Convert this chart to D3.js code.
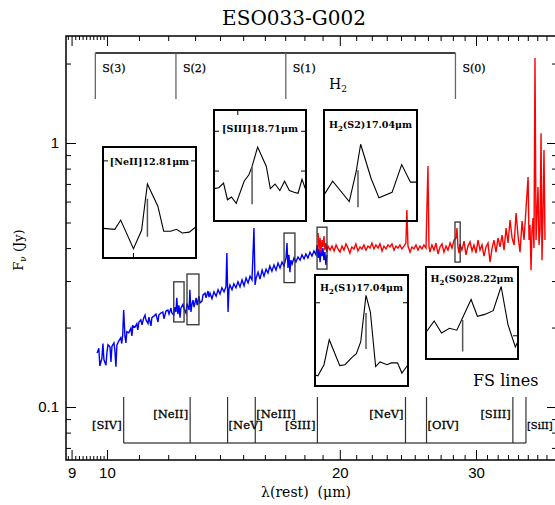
<!DOCTYPE html>
<html><head><meta charset="utf-8">
<script src="https://cdn.jsdelivr.net/npm/d3@7"></script>
<style>body{margin:0;background:#fff}svg{display:block}</style>
</head><body>
<svg id="c" width="555" height="505"></svg>
<script>
// ---------------- data ----------------
const title = "ESO033-G002";
const xMajorTicks = [9, 10, 20, 30];
const xMinorTicks = [11,12,13,14,15,16,17,18,19,21,22,23,24,25,26,27,28,29,31,32,33,34,35,36,37,38];
const xFineTicks = [8.9,9.1,9.2,9.3,9.4,9.5,9.6,9.7,9.8,9.9];
const yMajorTicks = [0.1, 1];
const yMinorTicks = [0.07,0.08,0.09,0.2,0.3,0.4,0.5,0.6,0.7,0.8,0.9,2];
const xDomain = [8.852, 38.18];
const yDomain = [0.063, 2.543];

// IRS short-low (blue) spectrum [lambda um, Fnu Jy]
const blueSpectrum = [
[9.71,0.160],[9.76,0.167],[9.79,0.143],[9.85,0.153],[9.88,0.174],[9.91,0.151],[9.97,0.144],[10.00,0.161],
[10.03,0.172],[10.09,0.169],[10.12,0.148],[10.15,0.170],[10.21,0.175],[10.24,0.163],[10.27,0.142],[10.30,0.172],
[10.36,0.178],[10.42,0.183],[10.45,0.174],[10.48,0.187],[10.51,0.233],[10.55,0.186],[10.58,0.175],[10.61,0.193],
[10.67,0.191],[10.74,0.199],[10.77,0.186],[10.80,0.203],[10.87,0.201],[10.93,0.207],[10.96,0.196],[11.00,0.210],
[11.06,0.214],[11.10,0.205],[11.16,0.218],[11.20,0.223],[11.23,0.214],[11.30,0.207],[11.33,0.219],[11.40,0.203],
[11.43,0.218],[11.50,0.221],[11.57,0.225],[11.64,0.210],[11.67,0.223],[11.74,0.227],[11.81,0.229],[11.85,0.216],
[11.92,0.231],[11.99,0.233],[12.03,0.225],[12.10,0.237],[12.13,0.227],[12.20,0.223],[12.24,0.239],[12.28,0.229],
[12.31,0.259],[12.35,0.225],[12.39,0.243],[12.43,0.218],[12.46,0.237],[12.54,0.245],[12.58,0.235],[12.65,0.227],
[12.69,0.247],[12.77,0.233],[12.80,0.278],[12.84,0.229],[12.88,0.245],[12.92,0.254],[12.96,0.239],[13.04,0.259],
[13.08,0.243],[13.15,0.263],[13.19,0.248],[13.27,0.252],[13.31,0.266],[13.39,0.270],[13.43,0.259],[13.51,0.275],
[13.55,0.261],[13.59,0.270],[13.67,0.257],[13.75,0.273],[13.84,0.263],[13.92,0.278],[14.00,0.268],[14.08,0.283],
[14.17,0.273],[14.25,0.285],[14.29,0.383],[14.34,0.229],[14.38,0.280],[14.42,0.290],[14.51,0.278],[14.59,0.293],
[14.68,0.283],[14.77,0.298],[14.86,0.285],[14.95,0.303],[15.04,0.288],[15.13,0.308],[15.22,0.295],[15.31,0.313],
[15.40,0.303],[15.49,0.476],[15.54,0.290],[15.59,0.308],[15.68,0.324],[15.77,0.305],[15.87,0.330],[15.96,0.313],
[16.06,0.333],[16.15,0.322],[16.24,0.342],[16.34,0.327],[16.44,0.345],[16.54,0.330],[16.64,0.351],[16.74,0.336],
[16.84,0.354],[16.94,0.342],[17.04,0.367],[17.09,0.418],[17.14,0.336],[17.19,0.377],[17.24,0.324],[17.29,0.360],
[17.35,0.348],[17.45,0.367],[17.55,0.354],[17.66,0.370],[17.77,0.360],[17.87,0.377],[17.98,0.364],[18.08,0.380],
[18.19,0.367],[18.30,0.386],[18.41,0.373],[18.52,0.390],[18.63,0.377],[18.69,0.411],[18.75,0.367],[18.80,0.397],
[18.86,0.354],[18.91,0.393],[18.97,0.373],[19.02,0.400],[19.08,0.360],[19.13,0.386],[19.19,0.345],[19.25,0.377]
];

// IRS long-low (red) spectrum [lambda um, Fnu Jy]
const redSpectrum = [
[18.75,0.456],[18.80,0.393],[18.86,0.437],[18.91,0.386],[18.97,0.429],[19.02,0.404],[19.08,0.444],[19.13,0.393],
[19.19,0.418],[19.25,0.386],[19.31,0.407],[19.43,0.393],[19.54,0.407],[19.66,0.390],[19.78,0.411],[19.89,0.397],
[20.01,0.386],[20.13,0.407],[20.25,0.393],[20.37,0.415],[20.49,0.400],[20.61,0.383],[20.73,0.404],[20.86,0.397],
[20.98,0.415],[21.11,0.390],[21.24,0.404],[21.36,0.397],[21.49,0.411],[21.62,0.393],[21.75,0.407],[21.88,0.400],
[22.01,0.418],[22.14,0.397],[22.27,0.411],[22.41,0.400],[22.54,0.415],[22.68,0.390],[22.81,0.407],[22.95,0.397],
[23.08,0.411],[23.22,0.404],[23.36,0.415],[23.50,0.393],[23.64,0.407],[23.78,0.400],[23.92,0.411],[24.06,0.397],
[24.21,0.407],[24.35,0.418],[24.42,0.557],[24.50,0.407],[24.65,0.386],[24.79,0.404],[24.94,0.397],[25.09,0.411],
[25.24,0.393],[25.39,0.407],[25.54,0.397],[25.69,0.411],[25.85,0.400],[26.00,0.818],[26.08,0.407],[26.16,0.386],
[26.31,0.411],[26.47,0.393],[26.63,0.418],[26.79,0.380],[26.95,0.404],[27.11,0.415],[27.27,0.386],[27.44,0.407],
[27.60,0.393],[27.77,0.418],[27.93,0.400],[28.10,0.429],[28.27,0.437],[28.35,0.476],[28.43,0.404],[28.52,0.383],
[28.60,0.415],[28.77,0.393],[28.95,0.425],[29.12,0.377],[29.29,0.407],[29.47,0.422],[29.65,0.390],[29.82,0.411],
[30.00,0.383],[30.18,0.429],[30.36,0.393],[30.54,0.411],[30.72,0.373],[30.91,0.404],[31.09,0.418],[31.28,0.354],
[31.47,0.400],[31.65,0.429],[31.84,0.386],[32.03,0.437],[32.22,0.404],[32.42,0.448],[32.61,0.393],[32.81,0.476],
[33.00,0.418],[33.20,0.511],[33.40,0.437],[33.60,0.411],[33.80,0.543],[34.00,0.444],[34.20,0.386],[34.41,0.506],
[34.61,0.429],[34.82,0.567],[35.03,0.743],[35.13,0.429],[35.23,0.489],[35.34,0.330],[35.44,0.460],[35.55,0.520],
[35.65,0.400],[35.76,2.10],[35.87,0.429],[35.97,0.534],[36.08,0.681],[36.19,0.411],[36.30,0.468],[36.41,1.09],
[36.51,0.360],[36.62,0.534],[36.73,0.941],[36.84,0.429]
];

// H2 rotational lines
const h2Lambda = [9.66, 12.28, 17.03, 28.22];
const h2Names = ["S(3)", "S(2)", "S(1)", "S(0)"];
// Fine-structure lines
const fsLambda = [10.51, 12.81, 14.32, 15.55, 18.71, 24.32, 25.89, 33.48, 34.81];
const fsNames = ["[SIV]", "[NeII]", "[NeV]", "[NeIII]", "[SIII]", "[NeV]", "[OIV]", "[SIII]", "[SiII]"];
const fsSide = ["end", "end", "start", "start", "end", "end", "start", "end", "start"];
const fsRow = ["low", "high", "low", "high", "low", "high", "low", "high", "low"];

// zoom boxes on the spectrum [lam1, lam2, f1, f2]
const zoomBoxes = [[12.20,12.58,0.210,0.298],[12.69,13.15,0.205,0.319],[16.94,17.50,0.296,0.456],[18.69,19.25,0.333,0.480],[28.18,28.62,0.354,0.502]];

// inset spectra [lambda, Fnu]
const insetNeII = [[12.43,0.232],[12.53,0.231],[12.58,0.241],[12.69,0.210],[12.76,0.230],[12.81,0.280],[12.90,0.256],[12.95,0.229],[13.01,0.229],[13.06,0.231],[13.11,0.227],[13.17,0.228],[13.22,0.233]];
const insetSIII = [[18.23,0.375],[18.29,0.376],[18.35,0.381],[18.40,0.363],[18.45,0.366],[18.51,0.359],[18.61,0.383],[18.67,0.390],[18.71,0.399],[18.78,0.420],[18.89,0.399],[18.94,0.375],[19.00,0.380],[19.06,0.373],[19.12,0.383],[19.18,0.373],[19.24,0.371],[19.29,0.370],[19.34,0.385],[19.39,0.373]];
const insetS2 = [[16.65,0.348],[16.75,0.363],[16.94,0.341],[17.02,0.374],[17.07,0.403],[17.19,0.366],[17.28,0.345],[17.43,0.351],[17.54,0.381],[17.64,0.362],[17.71,0.362]];
const insetS1 = [[16.46,0.312],[16.49,0.311],[16.56,0.323],[16.62,0.350],[16.74,0.322],[16.80,0.323],[16.88,0.331],[16.93,0.335],[16.98,0.348],[17.04,0.398],[17.09,0.380],[17.15,0.321],[17.20,0.326],[17.28,0.323],[17.33,0.325],[17.40,0.325],[17.45,0.314],[17.52,0.323]];
const insetS0 = [[27.53,0.389],[27.68,0.401],[27.82,0.388],[27.97,0.393],[28.11,0.391],[28.38,0.424],[28.50,0.406],[28.64,0.408],[28.80,0.412],[28.95,0.438],[29.08,0.397],[29.22,0.373],[29.27,0.379]];

// ---------------- drawing ----------------
const svg = d3.select("#c");
const L = 66, R = 557, T = 36, B = 460;
const serif = "'DejaVu Serif', serif";
const sans = "'Liberation Sans', Arial, sans-serif";

const x = d3.scaleLog().domain(xDomain).range([L, R]);
const y = d3.scaleLog().domain(yDomain).range([B, T]);

svg.append("rect").attr("width", 555).attr("height", 505).attr("fill", "#fff");

svg.append("defs").append("clipPath").attr("id", "plotclip")
  .append("rect").attr("x", L).attr("y", T).attr("width", R - L).attr("height", B - T);

// axes
function ax(gen, tr, vals, size, fmt, pad, fs) {
  const g = svg.append("g").attr("transform", tr)
    .call(gen.tickValues(vals).tickSize(size).tickPadding(pad || 3).tickFormat(fmt || (() => "")));
  g.select(".domain").remove();
  g.selectAll("line").attr("stroke", "#000").attr("stroke-width", 1);
  g.selectAll("text").attr("font-family", sans).attr("font-size", fs || 15).attr("fill", "#000");
  return g;
}
ax(d3.axisBottom(x), `translate(0,${B})`, xMajorTicks, -10, d => String(d), 7, 15);
ax(d3.axisBottom(x), `translate(0,${B})`, xMinorTicks, -5);
ax(d3.axisBottom(x), `translate(0,${B})`, xFineTicks, -4);
ax(d3.axisTop(x), `translate(0,${T})`, xMajorTicks, -10);
ax(d3.axisTop(x), `translate(0,${T})`, xMinorTicks, -5);
ax(d3.axisTop(x), `translate(0,${T})`, xFineTicks, -4);
ax(d3.axisLeft(y), `translate(${L},0)`, yMajorTicks, -10, d => String(d), 7, 15);
ax(d3.axisLeft(y), `translate(${L},0)`, yMinorTicks, -5);
ax(d3.axisRight(y), `translate(${R},0)`, yMajorTicks, -10);
ax(d3.axisRight(y), `translate(${R},0)`, yMinorTicks, -5);

svg.append("rect").attr("x", L).attr("y", T).attr("width", R - L).attr("height", B - T)
  .attr("fill", "none").attr("stroke", "#000").attr("stroke-width", 1.5);

// title and axis labels
svg.append("text").attr("x", 294).attr("y", 25).attr("text-anchor", "middle")
  .attr("font-family", serif).attr("font-size", 20).text(title);
svg.append("text").attr("x", 306).attr("y", 497).attr("text-anchor", "middle")
  .style("white-space", "pre")
  .attr("font-family", serif).attr("font-size", 14).text("λ(rest)  (μm)");
const yl = svg.append("text").attr("transform", "translate(23,250) rotate(-90)").attr("text-anchor", "middle")
  .attr("font-family", serif).attr("font-size", 13);
yl.append("tspan").text("F");
yl.append("tspan").attr("dy", 3).attr("font-size", 9).text("ν");
yl.append("tspan").attr("dy", -3).text(" (Jy)");

// spectra
const line = d3.line().x(d => x(d[0])).y(d => y(d[1]));
const spec = svg.append("g").attr("clip-path", "url(#plotclip)");
spec.append("path").datum(blueSpectrum).attr("d", line).attr("fill", "none").attr("stroke", "#0000ff").attr("stroke-width", 1.4);
spec.append("path").datum(redSpectrum).attr("d", line).attr("fill", "none").attr("stroke", "#ff0000").attr("stroke-width", 1.4);

// zoom boxes
svg.append("g").selectAll("rect").data(zoomBoxes).join("rect")
  .attr("x", d => x(d[0])).attr("y", d => y(d[3]))
  .attr("width", d => x(d[1]) - x(d[0])).attr("height", d => y(d[2]) - y(d[3]))
  .attr("fill", "none").attr("stroke", "#333").attr("stroke-width", 1.3);

// H2 bracket
const h2y0 = 53, h2y1 = 99;
const h2g = svg.append("g");
h2g.append("line").attr("x1", x(h2Lambda[0])).attr("x2", x(h2Lambda[h2Lambda.length - 1]))
  .attr("y1", h2y0).attr("y2", h2y0).attr("stroke", "#000").attr("stroke-width", 1.3);
h2g.selectAll("line.v").data(h2Lambda).join("line").attr("class", "v")
  .attr("x1", d => x(d)).attr("x2", d => x(d)).attr("y1", h2y0).attr("y2", h2y1)
  .attr("stroke", "#666").attr("stroke-width", 1.3);
h2g.selectAll("text").data(h2Lambda).join("text")
  .attr("x", d => x(d) + 7).attr("y", 72).attr("font-family", serif).attr("font-size", 11)
  .attr("stroke", "#000").attr("stroke-width", 0.25)
  .text((d, i) => h2Names[i]);
const h2t = svg.append("text").attr("x", 329).attr("y", 89).attr("font-family", serif).attr("font-size", 14);
h2t.append("tspan").text("H");
h2t.append("tspan").attr("dy", 3).attr("font-size", 9).text("2");

// FS bracket
const fsy0 = 397, fsy1 = 443;
const fsg = svg.append("g");
fsg.append("line").attr("x1", x(fsLambda[0])).attr("x2", x(fsLambda[fsLambda.length - 1]))
  .attr("y1", fsy1).attr("y2", fsy1).attr("stroke", "#000").attr("stroke-width", 1.2);
fsg.selectAll("line.v").data(fsLambda).join("line").attr("class", "v")
  .attr("x1", d => x(d)).attr("x2", d => x(d)).attr("y1", fsy0).attr("y2", fsy1)
  .attr("stroke", "#333").attr("stroke-width", 1.2);
fsg.selectAll("text").data(fsLambda).join("text")
  .attr("x", (d, i) => x(d) + (fsSide[i] === "end" ? -2 : 1))
  .attr("y", (d, i) => fsRow[i] === "high" ? 418 : 429)
  .attr("text-anchor", (d, i) => fsSide[i])
  .attr("font-family", serif)
  .attr("font-size", (d, i) => i === fsLambda.length - 1 ? 10 : 11.5)
  .attr("stroke", "#000").attr("stroke-width", 0.3)
  .text((d, i) => fsNames[i]);
svg.append("text").attr("x", 473).attr("y", 386).attr("font-family", serif).attr("font-size", 16).text("FS lines");

// insets
const insets = [
  {data: insetNeII, box: [103,147,196,258], xd: [12.428,13.228], yd: [0.20,0.32], mk: [12.81,0.223,0.264],
   title: [["[NeII]12.81μm"]], ty: 165, xt: {bottom: [12.69]}, yt: [0.305]},
  {data: insetSIII, box: [214,110,306,221], xd: [18.23,19.39], yd: [0.34,0.46], mk: [18.71,0.358,0.398],
   title: [["[SIII]18.71μm"]], ty: 132, xt: {top: [18.53]}, yt: [0.437,0.394]},
  {data: insetS2, box: [324,110,417,221], xd: [16.651,17.715], yd: [0.32,0.44], mk: [17.04,0.335,0.375],
   title: [["H"],["2","sub"],["(S2)17.04μm"]], ty: 128, xt: {}, yt: []},
  {data: insetS1, box: [315,275,408,386], xd: [16.457,17.52], yd: [0.30,0.42], mk: [17.04,0.340,0.379],
   title: [["H"],["2","sub"],["(S1)17.04μm"]], ty: 291, xt: {}, yt: [0.390]},
  {data: insetS0, box: [426,267,518,359], xd: [27.525,29.27], yd: [0.36,0.459], mk: [28.22,0.368,0.402],
   title: [["H"],["2","sub"],["(S0)28.22μm"]], ty: 282, xt: {}, yt: [0.385], yside: "right"}
];
insets.forEach(ins => {
  const [x0, y0, x1, y1] = ins.box;
  const sx = d3.scaleLinear().domain(ins.xd).range([x0, x1]);
  const sy = d3.scaleLinear().domain(ins.yd).range([y1, y0]);
  const g = svg.append("g");
  const il = d3.line().x(d => sx(d[0])).y(d => sy(d[1]));
  g.append("path").datum(ins.data).attr("d", il).attr("fill", "none").attr("stroke", "#000").attr("stroke-width", 1.1);
  g.append("line").attr("x1", sx(ins.mk[0])).attr("x2", sx(ins.mk[0]))
    .attr("y1", sy(ins.mk[1])).attr("y2", sy(ins.mk[2])).attr("stroke", "#555").attr("stroke-width", 1.5);
  (ins.xt.bottom || []).forEach(v => g.append("line").attr("x1", sx(v)).attr("x2", sx(v)).attr("y1", y1).attr("y2", y1 - 5).attr("stroke", "#000"));
  (ins.xt.top || []).forEach(v => g.append("line").attr("x1", sx(v)).attr("x2", sx(v)).attr("y1", y0).attr("y2", y0 + 5).attr("stroke", "#000"));
  ins.yt.forEach(v => {
    if (ins.yside !== "right") g.append("line").attr("x1", x0).attr("x2", x0 + 5).attr("y1", sy(v)).attr("y2", sy(v)).attr("stroke", "#000");
    g.append("line").attr("x1", x1).attr("x2", x1 - 5).attr("y1", sy(v)).attr("y2", sy(v)).attr("stroke", "#000");
  });
  g.append("rect").attr("x", x0).attr("y", y0).attr("width", x1 - x0).attr("height", y1 - y0)
    .attr("fill", "none").attr("stroke", "#000").attr("stroke-width", 2);
  const t = g.append("text").attr("x", (x0 + x1) / 2).attr("y", ins.ty).attr("text-anchor", "middle")
    .attr("font-family", serif).attr("font-size", 9.5).attr("font-weight", "bold");
  ins.title.forEach(p => {
    const ts = t.append("tspan").text(p[0]);
    if (p[1] === "sub") ts.attr("dy", 3).attr("font-size", 7);
    else if (t.selectAll("tspan").size() > 1) ts.attr("dy", -3);
  });
});
</script>
</body></html>
